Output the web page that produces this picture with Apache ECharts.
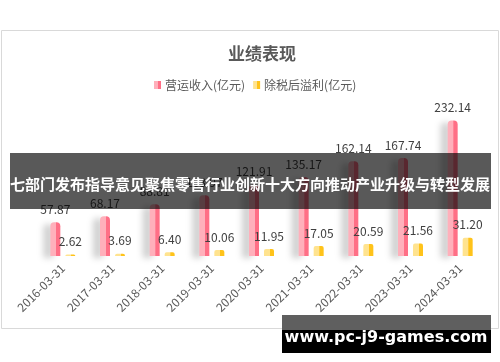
<!DOCTYPE html>
<html><head><meta charset="utf-8">
<script src="https://cdn.jsdelivr.net/npm/echarts@6/dist/echarts.min.js"></script>
<style>html,body{margin:0;padding:0;background:#fff}#c{width:500px;height:362px}</style>
</head><body><div id="c"></div>
<script>
const categories = ['2016-03-31','2017-03-31','2018-03-31','2019-03-31','2020-03-31','2021-03-31','2022-03-31','2023-03-31','2024-03-31'];
const revenue = [57.87, 68.17, 88.81, 103.97, 121.91, 135.17, 162.14, 167.74, 232.14];
const profit = [2.62, 3.69, 6.40, 10.06, 11.95, 17.05, 20.59, 21.56, 31.20];
const seriesNames = ['营运收入(亿元)', '除税后溢利(亿元)'];
const titleText = '业绩表现';
const bannerText = '七部门发布指导意见聚焦零售行业创新十大方向推动产业升级与转型发展';
const siteText = 'www.pc-j9-games.com';

const FONT = '"Noto Sans CJK SC", "Noto Sans", sans-serif';
const chart = echarts.init(document.getElementById('c'));
const grad = (a, b) => new echarts.graphic.LinearGradient(0, 0, 1, 0, [
  {offset: 0, color: a}, {offset: 0.55, color: a}, {offset: 0.6, color: b}, {offset: 1, color: b}
]);
const labelStyle = {show: true, position: 'top', distance: 7, color: '#404040', fontSize: 12, fontFamily: FONT, formatter: p => p.value.toFixed(2)};
chart.setOption({
  animation: false,
  textStyle: {fontFamily: FONT},
  title: {text: titleText, left: 257, textAlign: 'center', top: 40, textStyle: {fontSize: 17, fontWeight: 'bold', color: '#595959', fontFamily: FONT}},
  legend: {left: 149, top: 74, itemWidth: 7, itemHeight: 8, itemGap: 8, icon: 'rect',
    textStyle: {fontSize: 12, color: '#595959', fontFamily: FONT, padding: [0,0,0,-1]}},
  grid: {left: 38, right: 15, top: 110, bottom: 106, containLabel: false},
  xAxis: {type: 'category', data: categories, axisLine: {show: false}, axisTick: {show: false},
    axisLabel: {rotate: 45, color: '#595959', fontSize: 12, margin: 10, fontFamily: FONT}},
  yAxis: {type: 'value', min: 0, max: 250, show: false, splitLine: {show: false}},
  series: [
    {name: seriesNames[0], type: 'bar', data: revenue, barWidth: 10, barGap: '50%',
      itemStyle: {color: grad('#ffb0bb', '#ff6f86'), borderRadius: [4, 4, 0, 0],
        shadowColor: 'rgba(0,0,0,0.18)', shadowBlur: 6, shadowOffsetX: -7, shadowOffsetY: 2},
      label: labelStyle},
    {name: seriesNames[1], type: 'bar', data: profit, barWidth: 10,
      itemStyle: {color: grad('#ffe38f', '#ffc31a'), borderRadius: [2, 2, 0, 0]},
      label: labelStyle}
  ],
  color: ['#ff8a9c', '#ffc928'],
  graphic: [
    {type: 'rect', z: -1, shape: {x: 1.5, y: 30.5, width: 497, height: 298}, style: {fill: 'none', stroke: '#d9d9d9', lineWidth: 1}},
    {type: 'rect', z: 100, shape: {x: 10, y: 153, width: 481, height: 56}, style: {fill: 'rgba(0,0,0,0.65)'}},
    {type: 'text', z: 101, x: 250, y: 184, style: {text: bannerText, fill: '#fff', font: 'bold 15px ' + FONT, textAlign: 'center', textVerticalAlign: 'middle'}},
    {type: 'rect', z: 100, shape: {x: 282, y: 315, width: 209, height: 15}, style: {fill: '#5f5f5f'}},
    {type: 'rect', z: 100, shape: {x: 282, y: 330, width: 209, height: 23}, style: {fill: '#000'}},
    {type: 'text', z: 101, x: 386, y: 338, style: {text: siteText, fill: '#fff', font: 'bold 16px "DejaVu Sans", sans-serif', textAlign: 'center', textVerticalAlign: 'middle'}}
  ]
});
</script></body></html>
